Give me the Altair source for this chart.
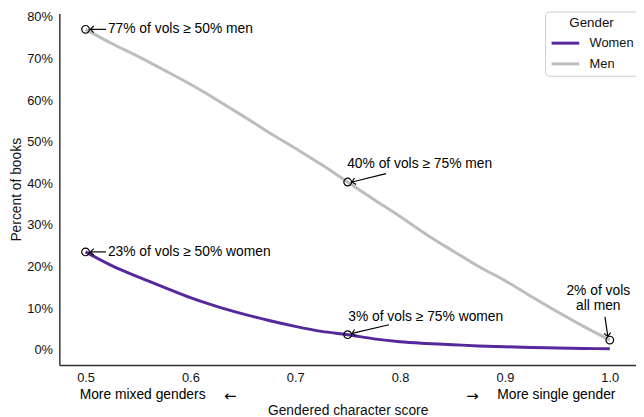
import altair as alt
import pandas as pd

# ---- data ----
score = [0.5, 0.525, 0.55, 0.575, 0.6, 0.625, 0.65, 0.675, 0.7, 0.725, 0.75,
         0.775, 0.8, 0.825, 0.85, 0.875, 0.9, 0.925, 0.95, 0.975, 1.0]
men_pct = [77.0, 73.6, 70.5, 67.2, 63.8, 60.1, 56.2, 52.2, 48.4, 44.5, 40.3,
           36.1, 32.0, 27.7, 23.8, 20.0, 16.6, 12.8, 9.1, 5.6, 2.3]
women_pct = [23.5, 20.2, 17.5, 15.0, 12.5, 10.4, 8.6, 7.0, 5.6, 4.4, 3.6,
             2.6, 1.9, 1.5, 1.2, 0.9, 0.7, 0.5, 0.4, 0.3, 0.2]
genders = ["Women", "Men"]
gender_colors = ["#55289b", "#bdbdbd"]

x_ticks = [0.5, 0.6, 0.7, 0.8, 0.9, 1.0]
y_ticks = [0, 10, 20, 30, 40, 50, 60, 70, 80]

# highlighted points
mark_x = [0.5, 0.75, 1.0, 0.5, 0.75]
mark_y = [77.0, 40.3, 2.3, 23.5, 3.6]

# annotation texts
note_text = ["77% of vols ≥ 50% men", "40% of vols ≥ 75% men", "2% of vols",
             "all men", "23% of vols ≥ 50% women", "3% of vols ≥ 75% women"]
note_x = [0.5213, 0.7495, 0.989, 0.989, 0.5213, 0.7505]
note_y = [77.0, 44.6, 14.1, 10.6, 23.5, 7.9]
note_align = ["left", "left", "center", "center", "left", "left"]

# arrows (start -> end, pointing to the marked point)
arrow_x = [0.5195, 0.7866, 0.9954, 0.5195, 0.7894]
arrow_y = [77.0, 42.3, 7.9, 23.5, 6.0]
arrow_x2 = [0.5046, 0.7542, 0.9981, 0.5046, 0.7542]
arrow_y2 = [77.0, 40.3, 3.2, 23.5, 3.9]
arrow_angle = [0, 346, 261.5, 0, 347]

bottom_text = ["More mixed genders", "More single gender"]
bottom_x = [0.5544, 0.949]
bottom_arrows = ["←", "→"]
bottom_arrow_x = [0.638, 0.869]

FONT = "Liberation Sans"

lines_df = pd.DataFrame(
    {"score": score * 2,
     "pct": men_pct + women_pct,
     "gender": ["Men"] * len(score) + ["Women"] * len(score)}
)
marks_df = pd.DataFrame({"x": mark_x, "y": mark_y})
notes_df = pd.DataFrame({"x": note_x, "y": note_y, "t": note_text, "a": note_align})
arrows_df = pd.DataFrame({"x": arrow_x, "y": arrow_y, "x2": arrow_x2,
                          "y2": arrow_y2, "ang": arrow_angle})
bottom_df = pd.DataFrame({"x": bottom_x, "t": bottom_text})
bottom_arr_df = pd.DataFrame({"x": bottom_arrow_x, "t": bottom_arrows})

L = 52
T = 3
W, H = 636 - L, 356
xscale = alt.Scale(domain=[0.475, 1.025], nice=False, zero=False)
yscale = alt.Scale(domain=[-3.7, 80.8], nice=False, zero=False)

lines = alt.Chart(lines_df).mark_line(strokeWidth=3, interpolate="monotone").encode(
    x=alt.X("score:Q", scale=xscale,
            axis=alt.Axis(title="Gendered character score", values=x_ticks,
                          format=".1f", titlePadding=19)),
    y=alt.Y("pct:Q", scale=yscale,
            axis=alt.Axis(title="Percent of books", values=y_ticks,
                          labelExpr="datum.value + '%'")),
    color=alt.Color("gender:N",
                    scale=alt.Scale(domain=genders, range=gender_colors),
                    sort=genders,
                    legend=alt.Legend(title="Gender", orient="none",
                                      legendX=492, legendY=-2,
                                      symbolType="M -1 0 L 3.667 0",
                                      symbolStrokeWidth=3, symbolSize=144,
                                      labelOffset=25, rowPadding=6)),
)

points = alt.Chart(marks_df).mark_point(
    shape="circle", size=60, filled=False, color="black", strokeWidth=1.2, opacity=1
).encode(x=alt.X("x:Q", scale=xscale), y=alt.Y("y:Q", scale=yscale))

arrow_lines = alt.Chart(arrows_df).mark_rule(color="black", strokeWidth=1.2).encode(
    x=alt.X("x:Q", scale=xscale), y=alt.Y("y:Q", scale=yscale),
    x2="x2:Q", y2="y2:Q",
)

arrow_heads = alt.Chart(arrows_df).mark_point(
    shape="M 1 -1 L 0 0 L 1 1", size=45, filled=False, color="black",
    strokeWidth=1.2, opacity=1
).encode(
    x=alt.X("x2:Q", scale=xscale), y=alt.Y("y2:Q", scale=yscale),
    angle=alt.Angle("ang:Q", scale=None),
)

notes_left = alt.Chart(notes_df).transform_filter("datum.a == 'left'").mark_text(
    align="left", baseline="middle", font=FONT, fontSize=14, color="black"
).encode(x=alt.X("x:Q", scale=xscale), y=alt.Y("y:Q", scale=yscale), text="t:N")

notes_center = alt.Chart(notes_df).transform_filter("datum.a == 'center'").mark_text(
    align="center", baseline="middle", font=FONT, fontSize=14, color="black"
).encode(x=alt.X("x:Q", scale=xscale), y=alt.Y("y:Q", scale=yscale), text="t:N")

bottom = alt.Chart(bottom_df).mark_text(
    align="center", baseline="middle", font=FONT, fontSize=14, color="black"
).encode(x=alt.X("x:Q", scale=xscale), y=alt.value(H + 30), text="t:N")

bottom_arr = alt.Chart(bottom_arr_df).mark_text(
    align="center", baseline="middle", font="DejaVu Sans", fontSize=15, color="black"
).encode(x=alt.X("x:Q", scale=xscale), y=alt.value(H + 31), text="t:N")

chart = alt.layer(
    lines, arrow_lines, arrow_heads, points, notes_left, notes_center, bottom, bottom_arr
).properties(
    width=W, height=H,
    autosize=alt.AutoSizeParams(type="none"),
    padding={"left": L, "top": T, "right": 0, "bottom": 50},
).configure_view(stroke=None).configure_axis(
    grid=False, ticks=False, domainColor="#333333", domainWidth=1.5,
    labelFont=FONT, labelFontSize=13, labelColor="#111111", labelPadding=7,
    titleFont=FONT, titleFontSize=14, titleFontWeight="normal", titleColor="#111111",
).configure_axisY(labelPadding=7, titlePadding=3).configure_legend(
    titleFont=FONT, titleFontSize=13.5, titleFontWeight="normal", titleColor="#111111",
    labelFont=FONT, labelFontSize=13, labelColor="#111111",
    strokeColor="#cccccc", cornerRadius=4, padding=5, fillColor="white",
    titleAnchor="middle", titleAlign="center", titlePadding=6,
)

chart.save("out.html", embed_options={"renderer": "svg", "actions": False})
